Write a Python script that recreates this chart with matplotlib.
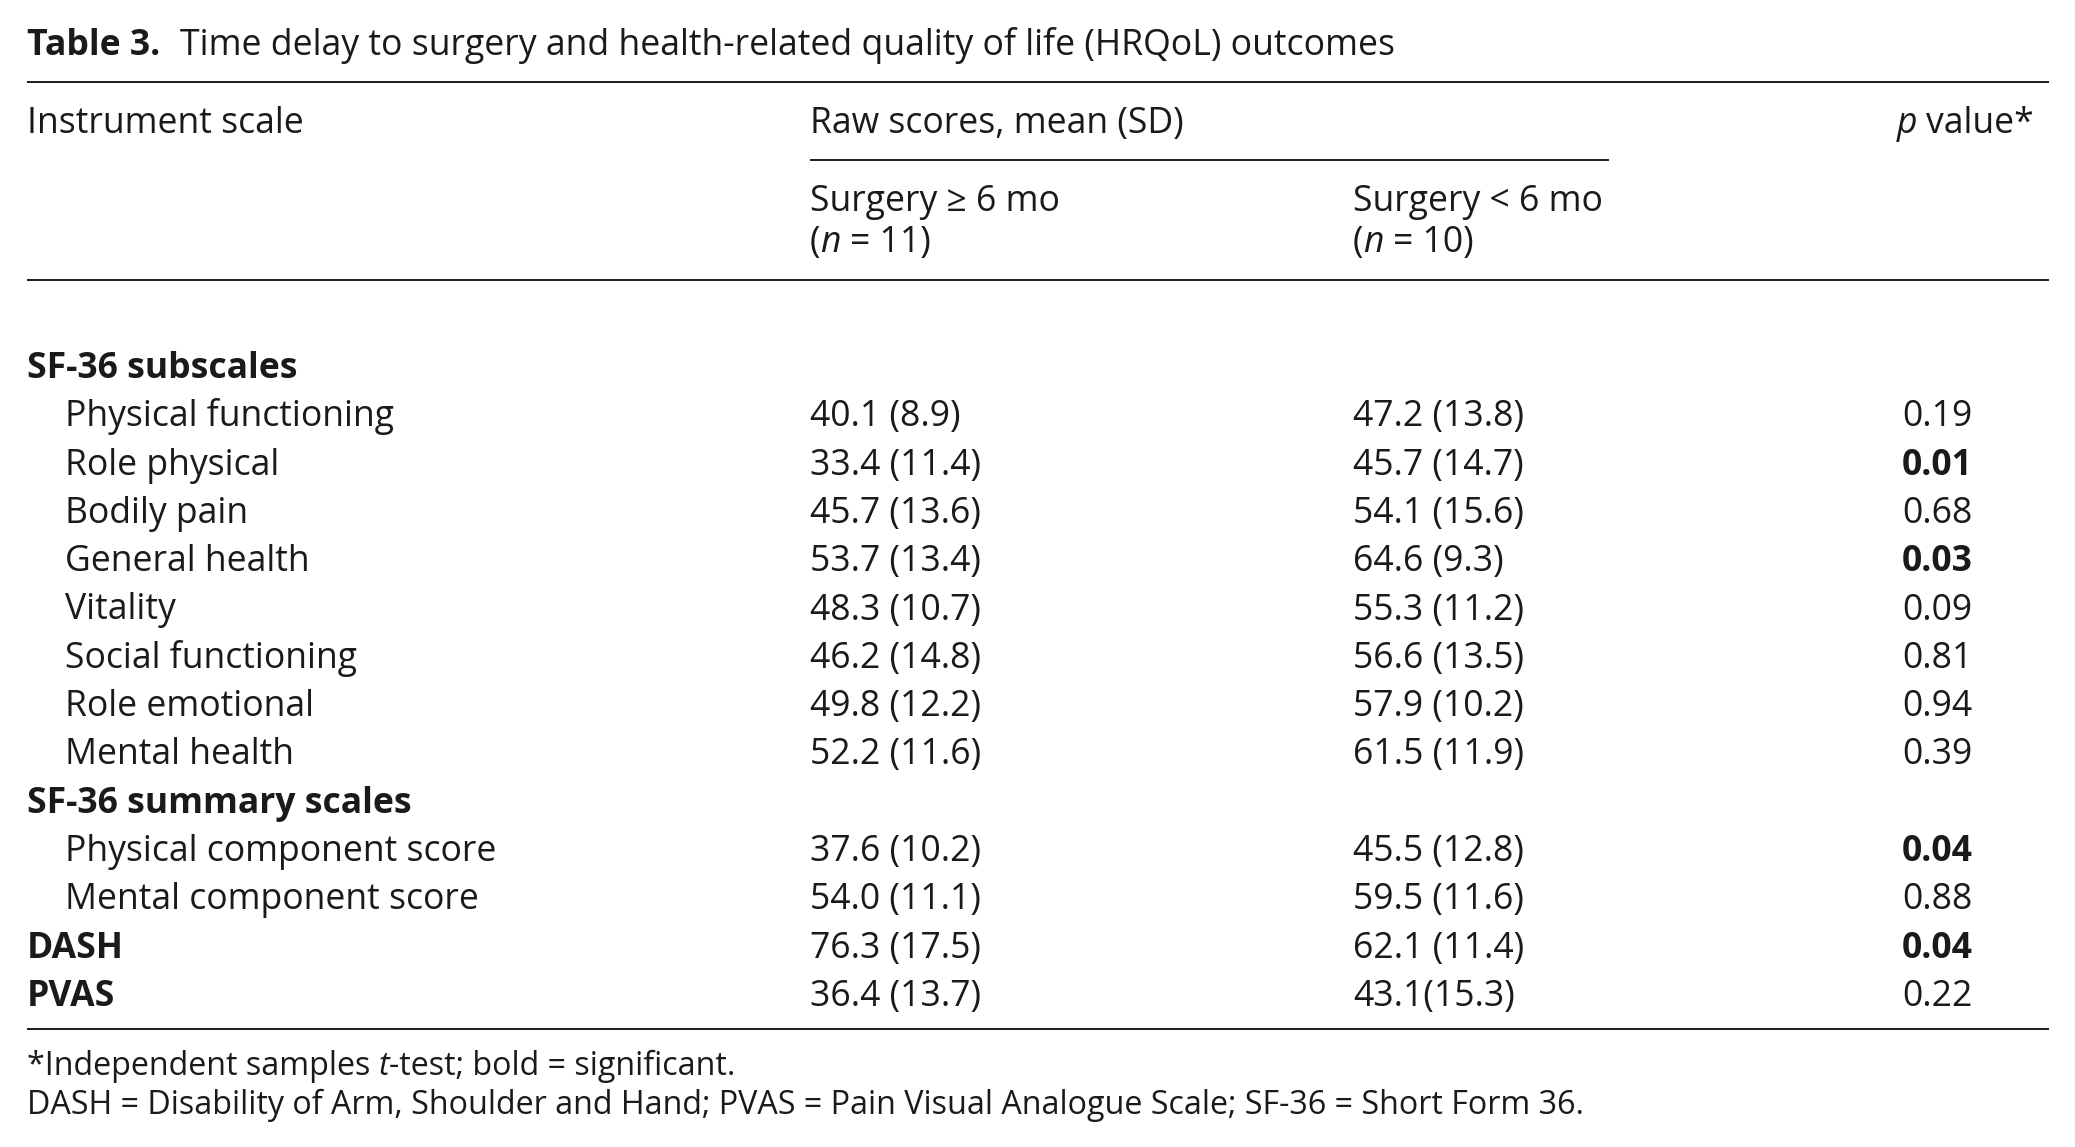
import numpy as np
import matplotlib
matplotlib.use("Agg")
import matplotlib.pyplot as plt
from matplotlib.lines import Line2D

# ---------------- data ----------------
labels = ["SF-36 subscales", "Physical functioning", "Role physical", "Bodily pain",
          "General health", "Vitality", "Social functioning", "Role emotional",
          "Mental health", "SF-36 summary scales", "Physical component score",
          "Mental component score", "DASH", "PVAS"]
is_heading = [True, False, False, False, False, False, False, False, False,
              True, False, False, True, True]
mean_late = [np.nan, 40.1, 33.4, 45.7, 53.7, 48.3, 46.2, 49.8, 52.2, np.nan, 37.6, 54.0, 76.3, 36.4]
sd_late = [np.nan, 8.9, 11.4, 13.6, 13.4, 10.7, 14.8, 12.2, 11.6, np.nan, 10.2, 11.1, 17.5, 13.7]
mean_early = [np.nan, 47.2, 45.7, 54.1, 64.6, 55.3, 56.6, 57.9, 61.5, np.nan, 45.5, 59.5, 62.1, 43.1]
sd_early = [np.nan, 13.8, 14.7, 15.6, 9.3, 11.2, 13.5, 10.2, 11.9, np.nan, 12.8, 11.6, 11.4, 15.3]
early_sep = [" ", " ", " ", " ", " ", " ", " ", " ", " ", " ", " ", " ", " ", ""]
p_values = [np.nan, 0.19, 0.01, 0.68, 0.03, 0.09, 0.81, 0.94, 0.39, np.nan, 0.04, 0.88, 0.04, 0.22]
alpha = 0.05

title_bold = "Table 3."
title_text = "Time delay to surgery and health-related quality of life (HRQoL) outcomes"
footnote1 = [("*Independent samples ", "normal", "normal"), ("t", "normal", "italic"),
             ("-test; bold = significant.", "normal", "normal")]
footnote2 = "DASH = Disability of Arm, Shoulder and Hand; PVAS = Pain Visual Analogue Scale; SF-36 = Short Form 36."

# ---------------- layout ----------------
W, H = 2075, 1147
FONT = "Open Sans"
FS = 25.6
TFS = 25.7
NFS = 23.2
COLOR = "#1a1a1a"
plt.rcParams["font.family"] = [FONT, "DejaVu Sans"]

fig = plt.figure(figsize=(W / 100, H / 100), dpi=100)
fig.patch.set_facecolor("white")
renderer = fig.canvas.get_renderer()


def fx(x):
    return x / W


def fy(y):
    return 1 - y / H


def tw(s, size=FS, weight="normal", style="normal"):
    if s == "":
        return 0.0
    t = fig.text(0, 0, "x" + s + "x", fontsize=size, weight=weight, style=style)
    w1 = t.get_window_extent(renderer).width
    t.remove()
    t = fig.text(0, 0, "xx", fontsize=size, weight=weight, style=style)
    w2 = t.get_window_extent(renderer).width
    t.remove()
    return w1 - w2


def draw_runs(x, y, parts, ha="left", size=FS):
    widths = [tw(s, size, w, st) for s, w, st in parts]
    if ha == "right":
        x -= sum(widths)
    for (s, w, st), wd in zip(parts, widths):
        lead = len(s) - len(s.lstrip(" "))
        off = tw(" " * lead, size, w, st) if lead else 0.0
        fig.text(fx(x + off), fy(y), s.strip(" "), fontsize=size, weight=w, style=st,
                 color=COLOR, ha="left", va="baseline")
        x += wd


def txt(x, y, s, weight="normal", ha="left", size=FS):
    fig.text(fx(x), fy(y), s, fontsize=size, weight=weight, color=COLOR,
             ha=ha, va="baseline")


def rule(y, x0, x1, lw=2.0):
    fig.add_artist(Line2D([fx(x0), fx(x1)], [fy(y), fy(y)], color="#222222",
                          linewidth=lw * 0.72, solid_capstyle="butt"))


X_LEFT, X_IND, X_G1, X_G2, X_P_RIGHT, X_P = 27, 65, 810, 1353, 2034, 1902
X_END = 2049

# title
txt(X_LEFT, 55, title_bold, weight="bold", size=TFS)
txt(180, 55, title_text, size=TFS)

# rules
rule(82, X_LEFT, X_END)
rule(160, X_G1, 1609)
rule(280, X_LEFT, X_END)
rule(1029, X_LEFT, X_END)

# header
txt(X_LEFT, 133, "Instrument scale")
txt(X_G1, 133, "Raw scores, mean (SD)")
draw_runs(X_P_RIGHT, 133, [("p", "normal", "italic"), (" value*", "normal", "normal")], ha="right")
txt(X_G1, 211, "Surgery \u2265 6 mo")
txt(X_G2, 211, "Surgery < 6 mo")
draw_runs(X_G1, 252, [("(", "normal", "normal"), ("n", "normal", "italic"), (" = 11)", "normal", "normal")])
draw_runs(X_G2, 252, [("(", "normal", "normal"), ("n", "normal", "italic"), (" = 10)", "normal", "normal")])

# body
Y0, DY = 378, 48.3
for i, lab in enumerate(labels):
    y = Y0 + DY * i
    if is_heading[i]:
        txt(X_LEFT, y, lab, weight="bold")
    else:
        txt(X_IND, y, lab)
    if not np.isnan(mean_late[i]):
        txt(X_G1, y, f"{mean_late[i]:.1f} ({sd_late[i]:.1f})")
        txt(X_G2, y, f"{mean_early[i]:.1f}{early_sep[i]}({sd_early[i]:.1f})")
    if not np.isnan(p_values[i]):
        txt(X_P, y, f"{p_values[i]:.2f}", weight="bold" if p_values[i] < alpha else "normal")

# footnotes
draw_runs(X_LEFT, 1075, footnote1, size=NFS)
txt(X_LEFT, 1114, footnote2, size=NFS)

fig.savefig("out.png", dpi=100, facecolor="white")
